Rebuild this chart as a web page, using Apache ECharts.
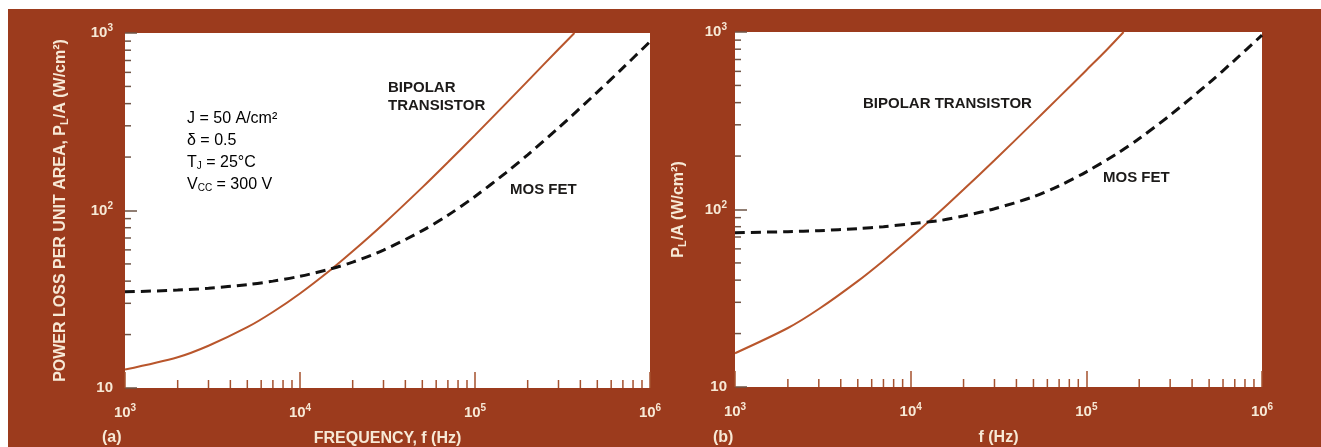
<!DOCTYPE html>
<html>
<head>
<meta charset="utf-8">
<script src="https://cdn.jsdelivr.net/npm/echarts@6/dist/echarts.min.js"></script>
<style>
  html, body { margin: 0; padding: 0; background: #fff; }
  #chart { width: 1321px; height: 447px; }
</style>
</head>
<body>
<div id="chart"></div>
<script>
// panel (a)
const bipolarFreqA = [1e3, 2e3, 3e3, 5e3, 7e3, 1e4, 1.5e4, 2e4, 3e4, 5e4, 7e4, 1e5, 1.5e5, 2e5, 3e5, 3.7e5]
const bipolarA = [12.7, 14.9, 17.3, 22, 26.8, 34.1, 46.4, 58.9, 84, 135, 187, 266, 400, 536, 810, 1000]
const mosFreqA = [1e3, 2e3, 3e3, 5e3, 7e3, 1e4, 1.5e4, 2e4, 3e4, 5e4, 7e4, 1e5, 1.5e5, 2e5, 3e5, 5e5, 7e5, 1e6]
const mosA = [34.8, 35.6, 36.5, 38.2, 40, 42.6, 46.9, 51.2, 59.8, 77, 94, 120, 163, 206, 292, 464, 636, 894]

// panel (b)
const bipolarFreqB = [1e3, 2e3, 3e3, 5e3, 7e3, 1e4, 1.34e4, 2e4, 3e4, 5e4, 7e4, 1e5, 1.3e5, 1.63e5]
const bipolarB = [15.5, 21.5, 27.5, 39.5, 51.5, 69.5, 89.9, 129.5, 189.5, 309.5, 429.5, 609.5, 789.5, 1000]
const mosFreqB = [1e3, 2e3, 3e3, 5e3, 7e3, 1e4, 1.5e4, 2e4, 3e4, 5e4, 7e4, 1e5, 1.5e5, 2e5, 3e5, 5e5, 7e5, 1e6]
const mosB = [74, 75, 76, 78, 80, 83, 87, 92, 101, 118, 136, 163, 207, 251, 340, 517, 695, 960]

// axis ticks
const xDecades = [1e3, 1e4, 1e5]
const yDecades = [10, 100]
const minorSteps = [2, 3, 4, 5, 6, 7, 8, 9]
const xLabels = { 1000: '3', 10000: '4', 100000: '5', 1000000: '6' }
const yLabels = { 10: '', 100: '2', 1000: '3' }

const xMinor = xDecades.flatMap(d => minorSteps.map(s => d * s))
const yMinor = yDecades.flatMap(d => minorSteps.map(s => d * s))

const brown = '#9c3b1d'
const cream = '#f7e9d6'
const ink = '#1c1a19'
const bipolarColor = '#b9562c'
const tickBrown = '#a5512e'
const tickDark = '#6e5446'
const font = "'Liberation Sans', Arial, sans-serif"

const zip = (xs, ys) => xs.map((x, i) => [x, ys[i]])

const labelRich = {
  b: { fontSize: 15, fontWeight: 'bold', color: cream, fontFamily: font },
  sup: { fontSize: 10, fontWeight: 'bold', color: cream, fontFamily: font, padding: [0, 0, 9, 0] },
}

function xAxisFor(grid, name) {
  return {
    type: 'log', gridIndex: grid, min: 1e3, max: 1e6, logBase: 10,
    name, nameLocation: 'middle', nameGap: 43,
    nameTextStyle: { color: cream, fontSize: 16, fontWeight: 'bold', fontFamily: font },
    axisLine: { show: false },
    axisTick: { show: true, inside: true, length: 16, lineStyle: { color: tickBrown, width: 1.5 } },
    axisLabel: {
      margin: 15,
      formatter: v => '{b|10}{sup|' + xLabels[Math.round(v)] + '}',
      rich: labelRich,
    },
    splitLine: { show: false },
  }
}

function yAxisFor(grid, name, gap, labelMargin) {
  return {
    type: 'log', gridIndex: grid, min: 10, max: 1000, logBase: 10,
    name, nameLocation: 'middle', nameGap: gap, nameRotate: 90,
    nameTextStyle: {
      rich: {
        t: { fontSize: 16, fontWeight: 'bold', color: cream, fontFamily: font },
        s: { fontSize: 11, fontWeight: 'bold', color: cream, fontFamily: font, padding: [8, 0, 0, 0] },
      },
    },
    axisLine: { show: false },
    axisTick: { show: true, inside: true, length: 12, lineStyle: { color: tickDark, width: 1.5 } },
    axisLabel: {
      margin: labelMargin,
      formatter: v => {
        const e = yLabels[Math.round(v)]
        return e ? '{b|10}{sup|' + e + '}' : '{b|10}'
      },
      rich: labelRich,
    },
    splitLine: { show: false },
  }
}

function xTickSeries(idx) {
  return {
    type: 'custom', xAxisIndex: idx, yAxisIndex: idx, silent: true,
    data: xMinor.map(v => [v, 10]),
    renderItem: (params, api) => {
      const p = api.coord([api.value(0), 10])
      return { type: 'line', shape: { x1: p[0], y1: p[1], x2: p[0], y2: p[1] - 8 }, style: { stroke: tickBrown, lineWidth: 1.5 } }
    },
  }
}

function yTickSeries(idx) {
  return {
    type: 'custom', xAxisIndex: idx, yAxisIndex: idx, silent: true,
    data: yMinor.map(v => [1e3, v]),
    renderItem: (params, api) => {
      const p = api.coord([1e3, api.value(1)])
      return { type: 'line', shape: { x1: p[0], y1: p[1], x2: p[0] + 6, y2: p[1] }, style: { stroke: tickDark, lineWidth: 1.5 } }
    },
  }
}

function curves(idx, bipFreq, bip, mosFreq, mos) {
  return [
    {
      name: 'BIPOLAR TRANSISTOR', type: 'line', xAxisIndex: idx, yAxisIndex: idx,
      data: zip(bipFreq, bip), showSymbol: false, smooth: 0.3,
      lineStyle: { color: bipolarColor, width: 2 },
    },
    {
      name: 'MOS FET', type: 'line', xAxisIndex: idx, yAxisIndex: idx,
      data: zip(mosFreq, mos), showSymbol: false, smooth: 0.3,
      lineStyle: { color: '#111', width: 3, type: [10, 6] },
    },
  ]
}

const textStyle = (x, y, text, extra) => ({
  type: 'text', left: x, top: y,
  style: Object.assign({ text, fill: ink, font: 'bold 15px ' + font }, extra || {}),
})

const noteRich = {
  n: { fontSize: 16, color: ink, fontFamily: font, lineHeight: 22 },
  s: { fontSize: 10, color: ink, fontFamily: font, padding: [7, 0, 0, 0] },
}

const chart = echarts.init(document.getElementById('chart'))
chart.setOption({
  animation: false,
  grid: [
    { left: 125, top: 33, width: 525, height: 355, show: true, backgroundColor: '#fff', borderWidth: 0, outerBoundsMode: 'none', containLabel: false },
    { left: 735, top: 32, width: 527, height: 355, show: true, backgroundColor: '#fff', borderWidth: 0, outerBoundsMode: 'none', containLabel: false },
  ],
  xAxis: [xAxisFor(0, 'FREQUENCY, f (Hz)'), xAxisFor(1, 'f (Hz)')],
  yAxis: [
    yAxisFor(0, '{t|POWER LOSS PER UNIT AREA, P}{s|L}{t|/A (W/cm²)}', 55, 12),
    yAxisFor(1, '{t|P}{s|L}{t|/A (W/cm²)}', 47, 8),
  ],
  graphic: [
    { type: 'rect', z: -10, shape: { x: 8, y: 9, width: 1313, height: 438 }, style: { fill: brown } },
    textStyle(102, 430, '(a)', { fill: cream, font: 'bold 16px ' + font }),
    textStyle(713, 430, '(b)', { fill: cream, font: 'bold 16px ' + font }),
    textStyle(388, 79, 'BIPOLAR\nTRANSISTOR', { lineHeight: 18 }),
    textStyle(510, 182, 'MOS FET'),
    textStyle(863, 96, 'BIPOLAR TRANSISTOR'),
    textStyle(1103, 170, 'MOS FET'),
    {
      type: 'text', left: 187, top: 111,
      style: {
        text: '{n|J = 50 A/cm²}\n{n|δ = 0.5}\n{n|T}{s|J}{n| = 25°C}\n{n|V}{s|CC}{n| = 300 V}',
        rich: noteRich,
      },
    },
  ],
  series: [
    xTickSeries(0), yTickSeries(0), xTickSeries(1), yTickSeries(1),
    ...curves(0, bipolarFreqA, bipolarA, mosFreqA, mosA),
    ...curves(1, bipolarFreqB, bipolarB, mosFreqB, mosB),
  ],
})
</script>
</body>
</html>
